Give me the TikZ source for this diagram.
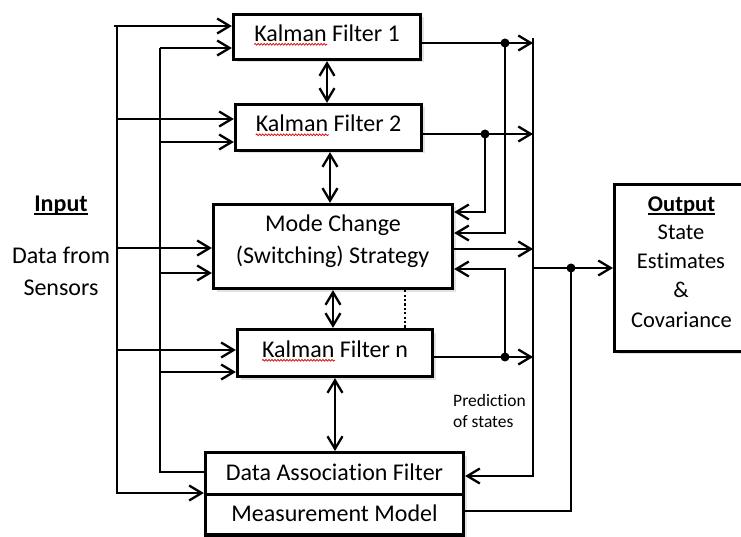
\documentclass[tikz,border=0pt]{standalone}
\usepackage{fontspec}
\setmainfont{Carlito}[Ligatures={NoCommon}]
\usetikzlibrary{arrows.meta,shadows,decorations.pathmorphing}
\begin{document}
\begin{tikzpicture}[x=1pt,y=-1pt,
  box/.style={draw, line width=3.3pt, fill=white, inner sep=0pt,
    font=\fontsize{24}{29}\selectfont, text height=15pt, text depth=6.4pt,
    drop shadow={shadow xshift=3pt,shadow yshift=-3pt,opacity=0.22}},
  wire/.style={line width=2.3pt},
  arr/.style={wire,-{Straight Barb[length=12.5pt,width=15pt]}},
  dbl/.style={wire,{Straight Barb[length=12.5pt,width=15pt]}-{Straight Barb[length=12.5pt,width=15pt]}},
  dot/.style={circle,fill,inner sep=0pt,minimum size=9pt},
  txt/.style={inner sep=0pt,font=\fontsize{24}{29}\selectfont},
  otxt/.style={inner sep=0pt,font=\fontsize{22.5}{27}\selectfont},
  small/.style={inner sep=0pt,font=\fontsize{17.5}{21}\selectfont},
  squig/.style={red!85!black, line width=0.7pt, decorate,
    decoration={snake,amplitude=0.9pt,segment length=3pt}}
]
\useasboundingbox (0,0) rectangle (741,537);

% boxes
\node[box,minimum width=187pt,minimum height=45pt] (kf1) at (327,37) {Kalman Filter 1};
\node[box,minimum width=186pt,minimum height=46pt] (kf2) at (328.5,127.5) {Kalman Filter 2};
\node[box,minimum width=239pt,minimum height=84pt] (mode) at (333,246.5) {};
\node[box,minimum width=195pt,minimum height=47pt] (kfn) at (335,353) {Kalman Filter n};
\node[box,minimum width=258pt,minimum height=41.85pt,text height=18pt,text depth=5.2pt] (da) at (334.5,473.6) {Data Association Filter};
\node[box,minimum width=258pt,minimum height=40.5pt,text height=19pt,text depth=5pt] (mm) at (334.5,514.75) {Measurement Model};
\node[box,minimum width=137.35pt,minimum height=166.7pt] (out) at (683.3,268) {};

% spell-check squiggles
\draw[squig] ([yshift=-3pt]kf1.text) -- ++(73,0);
\draw[squig] ([yshift=-3pt]kf2.text) -- ++(73,0);
\draw[squig] ([yshift=-3pt]kfn.text) -- ++(73,0);

% texts
\node[txt,anchor=base] (mt1) at (333,232) {Mode Change};
\node[txt,anchor=base] (mt2) at (332.5,263) {(Switching) Strategy};

\node[txt,font={\fontsize{24}{29}\selectfont\bfseries},anchor=base] (inp) at (61,212) {Input};
\draw[line width=1.6pt] ([yshift=-2pt]inp.base west) -- ([yshift=-2pt]inp.base east);
\node[txt,anchor=base] (dfrom) at (61,264) {Data from};
\node[txt,anchor=base] (sens) at (61,295) {Sensors};

\node[otxt,font={\fontsize{22.5}{27}\selectfont\bfseries},anchor=base] (ot0) at (681.5,212) {Output};
\draw[line width=1.5pt] ([yshift=-2pt]ot0.base west) -- ([yshift=-2pt]ot0.base east);
\node[otxt,anchor=base] (ot1) at (681,240) {State};
\node[otxt,anchor=base] (ot2) at (681,269) {Estimates};
\node[otxt,anchor=base] (ot3) at (681,298) {\&};
\node[otxt,anchor=base] (ot4) at (681.5,327) {Covariance};

\node[small,anchor=base west] (pr1) at (453,406) {Prediction};
\node[small,anchor=base west] (pr2) at (453,427) {of states};

% left buses
\coordinate (ob1) at (117,26);
\coordinate (ob2) at (117,119);
\coordinate (ob3) at (117,248);
\coordinate (ob4) at (117,350);
\coordinate (ob5) at (117,493);
\coordinate (ib1) at (160,48);
\coordinate (ib2) at (160,142);
\coordinate (ib3) at (160,273);
\coordinate (ib4) at (160,372);
\coordinate (ib5) at (160,472);

\draw[arr] ([xshift=-3pt]ob1) -- (ob1 -| kf1.west);
\draw[arr] (ob1) -- (ob5) -- (ob5 -| da.west);
\draw[arr] (ob2) -- (ob2 -| kf2.west);
\draw[arr] (ob3) -- (ob3 -| mode.west);
\draw[arr] (ob4) -- (ob4 -| kfn.west);

\draw[arr] (ib1) -- (ib1 -| kf1.west);
\draw[wire] (ib1) -- (ib5) -- (ib5 -| da.west);
\draw[arr] (ib2) -- (ib2 -| kf2.west);
\draw[arr] (ib3) -- (ib3 -| mode.west);
\draw[arr] (ib4) -- (ib4 -| kfn.west);

% vertical links between blocks
\draw[dbl] (kf1.south) -- (kf1.south |- kf2.north);
\draw[dbl] ([xshift=1.5pt]kf2.south) -- ([xshift=1.5pt]kf2.south |- mode.north);
\draw[dbl] (mode.south) -- (mode.south |- kfn.north);
\draw[dbl] (kfn.south) -- (kfn.south |- da.north);
\coordinate (dtx) at (405,0);
\draw[line width=2pt, dash pattern=on 2.2pt off 2.2pt] (mode.south -| dtx) -- (kfn.north -| dtx);

% right side
\coordinate (bt) at (533,38);
\coordinate (bb) at (533,476);
\coordinate (y43) at (0,43);
\coordinate (y134) at (0,134);
\coordinate (y212) at (0,212);
\coordinate (y233) at (0,233);
\coordinate (y249) at (0,249);
\coordinate (y269) at (0,269);
\coordinate (y357) at (0,357);
\coordinate (y511) at (0,511);

\node[dot] (d1) at (505,43) {};
\node[dot] (d2) at (485,134) {};
\node[dot] (d3) at (505,357) {};
\node[dot] (d4) at (571,268) {};

\draw[arr] (bt) -- (bb) -- (bb -| da.east);
\draw[arr] (kf1.east |- y43) -- (bt |- y43);
\draw[arr] (kf2.east |- y134) -- (bt |- y134);
\draw[arr] (mode.east |- y249) -- (bt |- y249);
\draw[arr] (kfn.east |- y357) -- (bt |- y357);

\draw[arr] (d1.center) |- (mode.east |- y233);
\draw[arr] (d2.center) |- (mode.east |- y212);
\draw[arr] (d3.center) |- (mode.east |- y269);

\draw[arr] (bt |- d4) -- (out.west |- d4);
\draw[wire] (mm.east |- y511) -| (d4.center);
\end{tikzpicture}
\end{document}
